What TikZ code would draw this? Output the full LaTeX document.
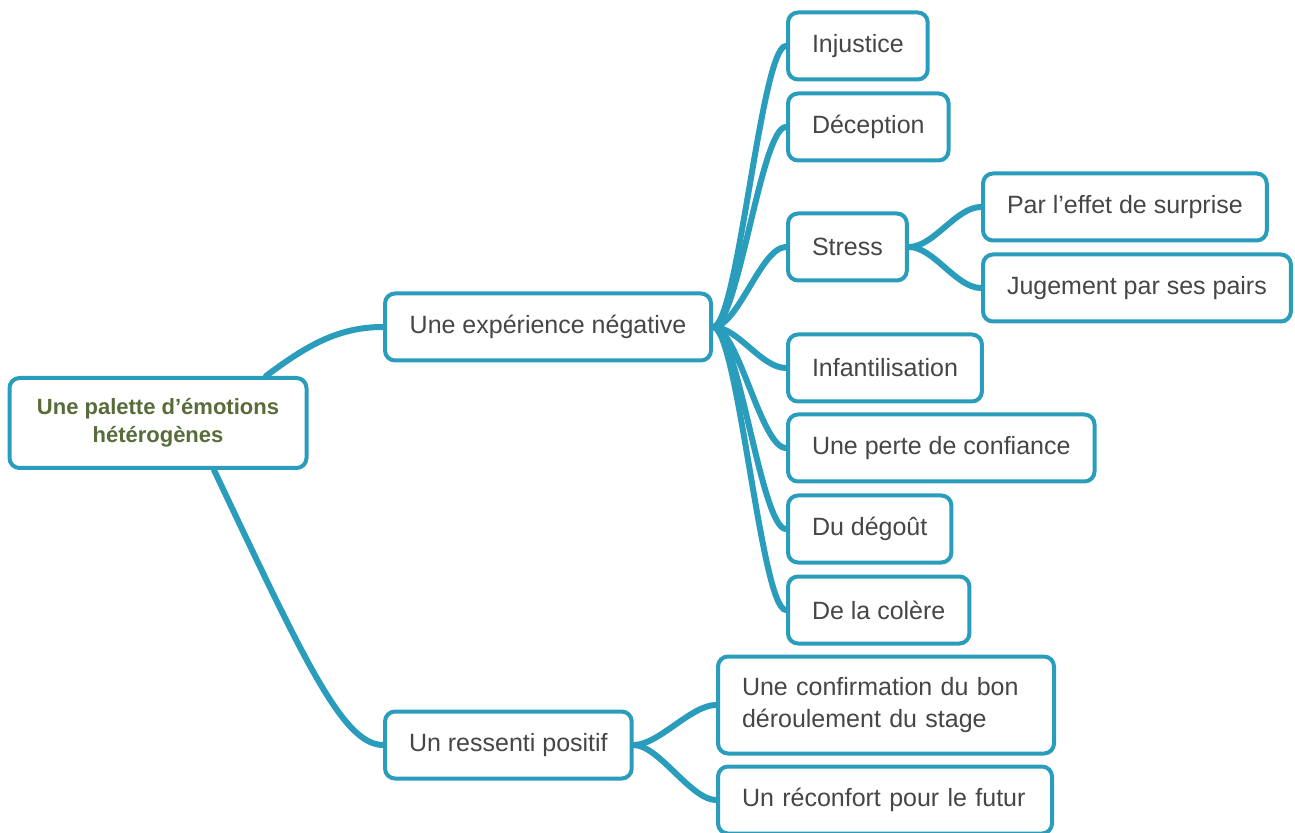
\documentclass[tikz,border=0pt]{standalone}
\usepackage{fontspec}
\setmainfont{Liberation Sans}
\usetikzlibrary{backgrounds}

\definecolor{bleucarte}{RGB}{43,157,188}
\definecolor{gristexte}{RGB}{70,70,70}
\definecolor{vertracine}{RGB}{88,108,58}

\tikzset{
  boite/.style={draw=bleucarte, line width=2pt, rounded corners=5pt, fill=white,
    text=gristexte, font=\fontsize{12.5}{16}\selectfont, inner xsep=12pt,
    minimum height=33.5pt, anchor=west},
  lien/.style={draw=bleucarte, line width=3pt, line cap=round},
}

\begin{document}
\begin{tikzpicture}[x=0.5pt,y=-0.5pt]
\useasboundingbox (0,0) rectangle (1295,833);

% la racine
\node[boite, anchor=center, minimum width=148.5pt, minimum height=45pt, align=center,
  text=vertracine, font=\fontsize{11}{14}\selectfont\bfseries] (racine) at (158,423)
  {Une palette d’émotions\\hétérogènes};

% les deux branches
\node[boite, minimum width=163pt] (negative) at (383,327) {Une expérience négative};
\node[boite] (positif) at (383,745) {Un ressenti positif};

% branche negative
\node[boite] (injustice) at (786,46) {Injustice};
\node[boite] (deception) at (786,127) {Déception};
\node[boite] (stress) at (786,247) {Stress};
\node[boite] (infantil) at (786,368) {Infantilisation};
\node[boite] (confiance) at (786,448) {Une perte de confiance};
\node[boite] (degout) at (786,529) {Du dégoût};
\node[boite] (colere) at (786,610) {De la colère};
% sous le stress
\node[boite] (surprise) at (981,207) {Par l’effet de surprise};
\node[boite] (pairs) at (981,288) {Jugement par ses pairs};

% branche positive
\node[boite, align=left, minimum height=48.5pt, text width=144pt] (bonstage) at (716,705)
  {Une confirmation du bon\\déroulement du stage};
\node[boite, align=left, text width=143pt] (futur) at (716,800) {Un réconfort pour le futur};

% les liens, derriere les boites
\begin{scope}[on background layer]
\draw[lien] ([xshift=54pt]racine.north) .. controls +(40,-30) and +(-45,0) .. (negative.west);
\draw[lien] ([xshift=28pt]racine.south) .. controls +(90,190) and +(-40,0) .. (positif.west);
\foreach \f in {injustice,deception,stress,infantil,confiance,degout,colere}
  \draw[lien] (negative.east) .. controls +(25,0) and +(-25,0) .. (\f.west);
\foreach \f in {surprise,pairs}
  \draw[lien] (stress.east) .. controls +(25,0) and +(-25,0) .. (\f.west);
\foreach \f in {bonstage,futur}
  \draw[lien] (positif.east) .. controls +(25,0) and +(-25,0) .. (\f.west);
\end{scope}

\end{tikzpicture}
\end{document}
